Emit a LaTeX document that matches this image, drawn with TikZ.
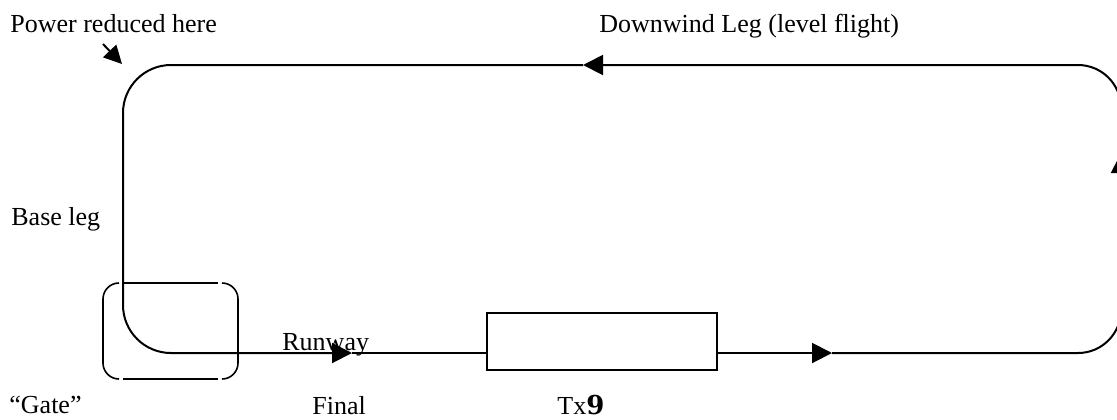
\documentclass[tikz,border=0pt]{standalone}
\usepackage{fontspec}
\setmainfont{Liberation Serif}
\newfontfamily\ninefont{DejaVu Serif}
\usetikzlibrary{arrows.meta}
\begin{document}
\begin{tikzpicture}[x=0.5pt,y=-0.5pt,
  ln/.style={line width=1pt, line join=round},
  tri/.tip={Triangle[length=10pt,width=10pt]},
  gatebox/.style={line width=0.8pt, rounded corners=8pt},
  lbl/.style={font=\fontsize{13pt}{15pt}\selectfont, inner sep=0pt, anchor=base west}]
\clip (0,0) rectangle (1117,419);
\fill[white] (0,0) rectangle (1117,419);
% labels
\node[lbl] (power) at (10,32) {Power reduced here};
\node[lbl] (down) at (599,32) {Downwind Leg (level flight)};
\node[lbl] (base) at (11,225) {Base leg};
\node[lbl] (gate) at (9,413) {“Gate”};
\node[lbl] (final) at (312,414) {Final};
\node[lbl] (tx) at (557,414) {Tx{\ninefont\bfseries 9}};
\node[lbl] (runlbl) at (282,350) {Runway};
% runway box
\node[draw, line width=1pt, minimum width=115pt, minimum height=28.5pt, inner sep=0pt] (rwy) at (602,341.5) {};
% circuit coordinates
\coordinate (A1) at (832,353);
\coordinate (cBR) at (1121,353);
\coordinate (A2) at (1121,153);
\coordinate (cTR) at (1121,65);
\coordinate (A3) at (583,65);
\coordinate (cTL) at (123,65);
\coordinate (cBL) at (123,353);
\coordinate (A4) at (352,353);
% circuit
\draw[ln,-tri] (rwy.east |- A1) -- (A1);
\draw[ln,rounded corners=21.5pt,-tri] (A1) -- (cBR) -- (A2);
\draw[ln,rounded corners=21.5pt,-tri] (A2) -- (cTR) -- (A3);
\draw[ln,rounded corners=24pt,-tri] (A3) -- (cTL) -- (cBL) -- (A4);
\draw[ln] (A4) -- (rwy.west |- A4);
% power reduced arrow
\coordinate (pw1) at (103,44);
\coordinate (pw2) at (122,64);
\draw[ln,-{Triangle[length=9pt,width=9pt]}] (pw1) -- (pw2);
% gate box (long dashes)
\coordinate (g1) at (103,283);
\coordinate (g2) at (238,283);
\coordinate (g3) at (238,379);
\coordinate (g4) at (103,379);
\draw[gatebox] (119,283) -- (g1) -- (g4) -- (119,379);
\draw[gatebox] (222,283) -- (g2) -- (g3) -- (222,379);
\draw[line width=0.8pt] (123,283) -- (218,283);
\draw[line width=0.8pt] (123,379) -- (218,379);
\end{tikzpicture}
\end{document}
